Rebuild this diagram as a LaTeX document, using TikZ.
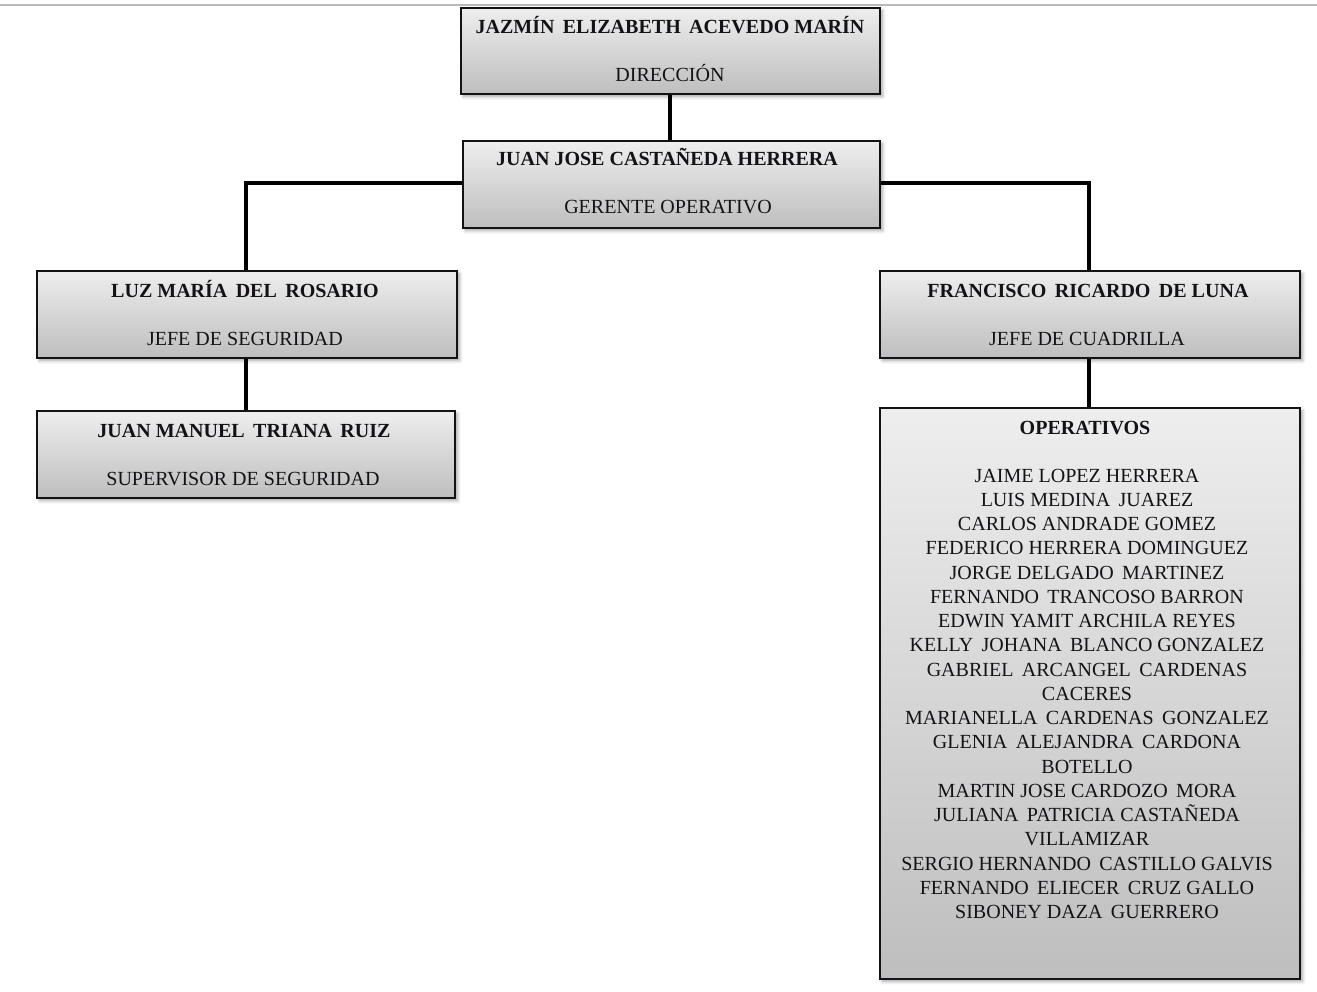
\documentclass[tikz,border=0pt]{standalone}
\usepackage{fontspec}
\setmainfont{Liberation Serif}
\usetikzlibrary{shadows.blur}
\definecolor{boxtop}{RGB}{238,238,238}
\definecolor{boxbottom}{RGB}{190,190,190}
\definecolor{rulegray}{RGB}{185,185,185}
\definecolor{inkdark}{RGB}{20,18,22}
\begin{document}
\begin{tikzpicture}[x=0.02cm,y=-0.02cm,
  orgbox/.style={draw=inkdark, line width=1pt, top color=boxtop, bottom color=boxbottom,
    anchor=north west, inner sep=0pt,
    blur shadow={shadow xshift=1.6pt, shadow yshift=-1.6pt, shadow blur steps=6, shadow opacity=35}},
  nametext/.style={font=\fontsize{11.4}{13.8}\selectfont\bfseries, text=inkdark, anchor=base, inner sep=0pt},
  roletext/.style={font=\fontsize{11.4}{13.8}\selectfont, text=inkdark, anchor=base, inner sep=0pt},
  listtext/.style={font=\fontsize{11.4}{13.8}\selectfont, text=inkdark, anchor=north, inner sep=0pt, align=center},
  link/.style={line width=2.8pt, black}]
\useasboundingbox (0,0) rectangle (1317,991);

% thin rule across the top of the page
\draw[rulegray, line width=1pt] (0,5) -- (1317,5);

% connectors
\draw[link] (670,93) coordinate (dirlink) -- (670,140) coordinate (gerlink);
\draw[link] (462,183) coordinate (gerw) -| (246,270) coordinate (luztop);
\draw[link] (879,183) coordinate (gere) -| (1089,270) coordinate (fratop);
\draw[link] (246,357) coordinate (luzbot) -- (246,410) coordinate (jmtop);
\draw[link] (1089,357) coordinate (frabot) -- (1089,407) coordinate (opetop);

% boxes
\node[orgbox, minimum width=8.38cm, minimum height=1.72cm] (dir) at (460,7) {};
\node[orgbox, minimum width=8.34cm, minimum height=1.74cm] (ger) at (462,140) {};
\node[orgbox, minimum width=8.40cm, minimum height=1.74cm] (luz) at (36,270) {};
\node[orgbox, minimum width=8.36cm, minimum height=1.74cm] (jm) at (36,410) {};
\node[orgbox, minimum width=8.40cm, minimum height=1.74cm] (fra) at (879,270) {};
\node[orgbox, minimum width=8.40cm, minimum height=11.42cm] (ope) at (879,407) {};

% texts
\node[nametext] (dirname) at (670,33) {JAZMÍN\, ELIZABETH\, ACEVEDO MARÍN};
\node[roletext] (dirrole) at (670,81) {DIRECCIÓN};
\node[nametext] (gername) at (667,165) {JUAN JOSE CASTAÑEDA HERRERA};
\node[roletext] (gerrole) at (668,213) {GERENTE OPERATIVO};
\node[nametext] (luzname) at (245,297) {LUZ MARÍA\, DEL\, ROSARIO};
\node[roletext] (luzrole) at (245,345) {JEFE DE SEGURIDAD};
\node[nametext] (jmname) at (244,437) {JUAN MANUEL\, TRIANA\, RUIZ};
\node[roletext] (jmrole) at (243,485) {SUPERVISOR DE SEGURIDAD};
\node[nametext] (franame) at (1088,297) {FRANCISCO\, RICARDO\, DE LUNA};
\node[roletext] (frarole) at (1087,345) {JEFE DE CUADRILLA};
\node[nametext] (opename) at (1085,434) {OPERATIVOS};
\node[listtext] (opelist) at (1087,468.5) {JAIME LOPEZ HERRERA\\
LUIS MEDINA\, JUAREZ\\
CARLOS ANDRADE GOMEZ\\
FEDERICO HERRERA DOMINGUEZ\\
JORGE DELGADO\, MARTINEZ\\
FERNANDO\, TRANCOSO BARRON\\
EDWIN YAMIT ARCHILA REYES\\
KELLY\, JOHANA\, BLANCO GONZALEZ\\
GABRIEL\, ARCANGEL\, CARDENAS\\
CACERES\\
MARIANELLA\, CARDENAS\, GONZALEZ\\
GLENIA\, ALEJANDRA\, CARDONA\\
BOTELLO\\
MARTIN JOSE CARDOZO\, MORA\\
JULIANA\, PATRICIA CASTAÑEDA\\
VILLAMIZAR\\
SERGIO HERNANDO\, CASTILLO GALVIS\\
FERNANDO\, ELIECER\, CRUZ GALLO\\
SIBONEY DAZA\, GUERRERO};
\end{tikzpicture}
\end{document}
